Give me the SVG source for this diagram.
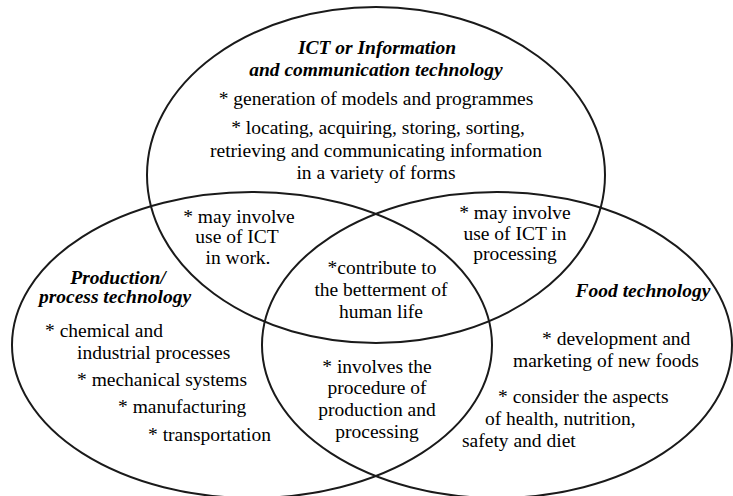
<svg xmlns="http://www.w3.org/2000/svg" width="733" height="496" viewBox="0 0 733 496">
<rect width="733" height="496" fill="#ffffff"/>
<g id="sets" fill="none" stroke="#1a1a1a" stroke-width="2">
  <ellipse cx="376" cy="175" rx="229" ry="168"/>
  <ellipse cx="252" cy="345" rx="240" ry="153"/>
  <ellipse cx="497" cy="345" rx="235" ry="153"/>
</g>
<g id="ict">
  <text x="377" y="54" font-size="19.5" font-family="serif" font-weight="bold" font-style="italic" text-anchor="middle">ICT or Information</text>
  <text x="376" y="76" font-size="19.5" font-family="serif" font-weight="bold" font-style="italic" text-anchor="middle">and communication technology</text>
  <text x="376" y="105" font-size="19.5" font-family="serif" text-anchor="middle">* generation of models and programmes</text>
  <text x="378" y="134" font-size="19.5" font-family="serif" text-anchor="middle">* locating, acquiring, storing, sorting,</text>
  <text x="376" y="157" font-size="19.5" font-family="serif" text-anchor="middle">retrieving and communicating information</text>
  <text x="376" y="179" font-size="19.5" font-family="serif" text-anchor="middle">in a variety of forms</text>
</g>
<g id="ict-production">
  <text x="239" y="223" font-size="19.5" font-family="serif" text-anchor="middle">* may involve</text>
  <text x="237" y="243" font-size="19.5" font-family="serif" text-anchor="middle">use of ICT</text>
  <text x="238" y="264" font-size="19.5" font-family="serif" text-anchor="middle">in work.</text>
</g>
<g id="ict-food">
  <text x="515" y="219" font-size="19.5" font-family="serif" text-anchor="middle">* may involve</text>
  <text x="515" y="240" font-size="19.5" font-family="serif" text-anchor="middle">use of ICT in</text>
  <text x="515" y="260" font-size="19.5" font-family="serif" text-anchor="middle">processing</text>
</g>
<g id="all-three">
  <text x="382" y="274" font-size="19.5" font-family="serif" text-anchor="middle">*contribute to</text>
  <text x="381" y="296" font-size="19.5" font-family="serif" text-anchor="middle">the betterment of</text>
  <text x="381" y="318" font-size="19.5" font-family="serif" text-anchor="middle">human life</text>
</g>
<g id="production-food">
  <text x="377" y="373" font-size="19.5" font-family="serif" text-anchor="middle">* involves the</text>
  <text x="377" y="394" font-size="19.5" font-family="serif" text-anchor="middle">procedure of</text>
  <text x="377" y="416" font-size="19.5" font-family="serif" text-anchor="middle">production and</text>
  <text x="377" y="438" font-size="19.5" font-family="serif" text-anchor="middle">processing</text>
</g>
<g id="production">
  <text x="118" y="284" font-size="19.5" font-family="serif" font-weight="bold" font-style="italic" text-anchor="middle">Production/</text>
  <text x="115" y="303" font-size="19.5" font-family="serif" font-weight="bold" font-style="italic" text-anchor="middle">process technology</text>
  <text x="45" y="337" font-size="19.5" font-family="serif">* chemical and</text>
  <text x="77" y="359" font-size="19.5" font-family="serif">industrial processes</text>
  <text x="77" y="386" font-size="19.5" font-family="serif">* mechanical systems</text>
  <text x="118" y="413" font-size="19.5" font-family="serif">* manufacturing</text>
  <text x="148" y="441" font-size="19.5" font-family="serif">* transportation</text>
</g>
<g id="food">
  <text x="643" y="297" font-size="19.5" font-family="serif" font-weight="bold" font-style="italic" text-anchor="middle">Food technology</text>
  <text x="542" y="345" font-size="19.5" font-family="serif">* development and</text>
  <text x="513" y="367" font-size="19.5" font-family="serif">marketing of new foods</text>
  <text x="498" y="403" font-size="19.5" font-family="serif">* consider the aspects</text>
  <text x="485" y="425" font-size="19.5" font-family="serif">of health, nutrition,</text>
  <text x="462" y="447" font-size="19.5" font-family="serif">safety and diet</text>
</g>
</svg>
